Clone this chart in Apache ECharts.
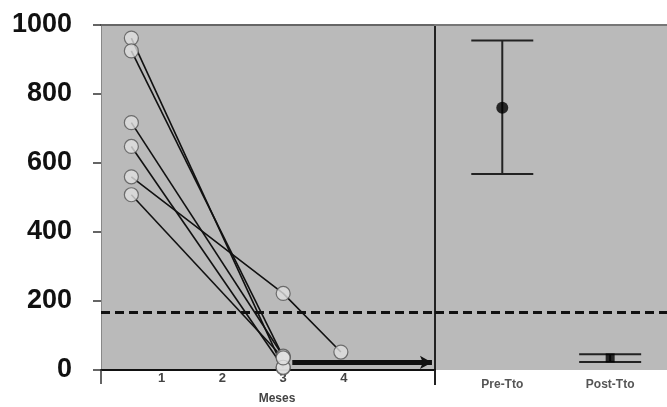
<!DOCTYPE html>
<html>
<head>
<meta charset="utf-8">
<script src="https://cdn.jsdelivr.net/npm/echarts@6/dist/echarts.min.js"></script>
<style>html,body{margin:0;padding:0;background:#fff;}#c{width:667px;height:407px;}</style>
</head>
<body>
<div id="c"></div>
<script>
// ---- data ----
const yTicks = [0, 200, 400, 600, 800, 1000];
const monthTicks = [1, 2, 3, 4];
const patientA = [[0.5, 962], [3, 6]];
const patientB = [[0.5, 925], [3, 38]];
const patientC = [[0.5, 717], [3, 40]];
const patientD = [[0.5, 648], [3, 8]];
const patientE = [[0.5, 560], [3, 222], [3.95, 52]];
const patientF = [[0.5, 508], [3, 35]];
const thresholdValue = 168;
const arrowStart = [3.15, 22];
const arrowEnd = [5.45, 22];
const groupLabels = ['Pre-Tto', 'Post-Tto'];
const groupPos = [0.29, 0.755];
const groupMean = [760, 35];
const groupLow = [568, 23];
const groupHigh = [955, 46];

const patients = [patientA, patientB, patientC, patientD, patientE, patientF];
const chart = echarts.init(document.getElementById('c'), null, {renderer: 'canvas'});
const FONT = 'Liberation Sans, Arial, sans-serif';
const BG = '#bababa';

const lineSeries = patients.map(p => ({
  type: 'line', xAxisIndex: 0, yAxisIndex: 0, data: p,
  showSymbol: false, symbol: 'none', silent: true, z: 3,
  lineStyle: {color: '#111', width: 1.6}
}));
const allPoints = [];
patients.forEach(p => p.forEach(pt => allPoints.push(pt)));

const option = {
  animation: false,
  backgroundColor: '#fff',
  grid: [
    {left: 101, top: 25, width: 334, bottom: 37, show: true, backgroundColor: BG, borderWidth: 0, containLabel: false, outerBoundsMode: 'none'},
    {left: 435, top: 25, right: 0, bottom: 37, show: true, backgroundColor: BG, borderWidth: 0, containLabel: false, outerBoundsMode: 'none'}
  ],
  xAxis: [
    {gridIndex: 0, type: 'value', min: 0, max: 5.5,
     axisLine: {show: true, lineStyle: {color: '#111', width: 2}},
     axisTick: {show: true, customValues: [0, 5.5], length: 14, lineStyle: {color: '#333', width: 1.5}},
     axisLabel: {customValues: monthTicks, margin: 2, fontFamily: FONT, fontSize: 13, fontWeight: 'bold', color: '#444'},
     splitLine: {show: false},
     name: 'Meses', nameLocation: 'middle', nameGap: 23,
     nameTextStyle: {fontFamily: FONT, fontSize: 12, fontWeight: 'bold', color: '#444', padding: [0, 0, 0, 18]}},
    {gridIndex: 1, type: 'value', min: 0, max: 1,
     axisLine: {show: false},
     axisTick: {show: true, customValues: [0], length: 15, lineStyle: {color: '#222', width: 2}},
     axisLabel: {customValues: groupPos, margin: 9, fontFamily: FONT, fontSize: 12, fontWeight: 'bold', color: '#555',
       formatter: v => {let b = 0; groupPos.forEach((g, i) => {if (Math.abs(g - v) < Math.abs(groupPos[b] - v)) b = i;}); return groupLabels[b];}},
     splitLine: {show: false}},
    {gridIndex: 0, type: 'value', min: 0, max: 5.5, position: 'top',
     axisLine: {show: true, lineStyle: {color: '#666', width: 2}}, axisTick: {show: false}, axisLabel: {show: false}, splitLine: {show: false}},
    {gridIndex: 1, type: 'value', min: 0, max: 1, position: 'top',
     axisLine: {show: true, lineStyle: {color: '#777', width: 2}}, axisTick: {show: false}, axisLabel: {show: false}, splitLine: {show: false}}
  ],
  yAxis: [
    {gridIndex: 0, type: 'value', min: 0, max: 1000, interval: 200,
     axisLine: {show: true, lineStyle: {color: '#888', width: 1}},
     axisTick: {show: true, length: 8, lineStyle: {color: '#333', width: 1.5}},
     axisLabel: {margin: 29, fontFamily: FONT, fontSize: 27, fontWeight: 'bold', color: '#111', formatter: v => String(v)},
     splitLine: {show: false}},
    {gridIndex: 1, type: 'value', min: 0, max: 1000, interval: 200,
     axisLine: {show: true, lineStyle: {color: '#222', width: 2}},
     axisTick: {show: false}, axisLabel: {show: false}, splitLine: {show: false}}
  ],
  series: [
    ...lineSeries,
    {type: 'scatter', xAxisIndex: 0, yAxisIndex: 0, data: allPoints, symbol: 'circle', symbolSize: 14, z: 5, silent: true,
     itemStyle: {color: '#e0e0e0', borderColor: '#555', borderWidth: 1.2},
     markLine: {silent: true, symbol: ['none', 'arrow'], symbolSize: [10, 12], label: {show: false},
       lineStyle: {color: '#111', width: 5, type: 'solid'},
       data: [[{coord: arrowStart}, {coord: arrowEnd}]]}},
    {type: 'line', xAxisIndex: 0, yAxisIndex: 0, data: [], z: 4,
     markLine: {silent: true, symbol: 'none', label: {show: false},
       lineStyle: {color: '#111', width: 3, type: [9, 5]}, data: [{yAxis: thresholdValue}]}},
    {type: 'custom', xAxisIndex: 1, yAxisIndex: 1, silent: true, z: 4,
     data: groupPos.map((x, i) => [x, groupLow[i], groupMean[i], groupHigh[i]]),
     renderItem: (params, api) => {
       const lo = api.coord([api.value(0), api.value(1)]);
       const hi = api.coord([api.value(0), api.value(3)]);
       const hw = 31;
       const st = {stroke: '#222', lineWidth: 2};
       return {type: 'group', children: [
         {type: 'line', shape: {x1: lo[0], y1: lo[1], x2: hi[0], y2: hi[1]}, style: st},
         {type: 'line', shape: {x1: lo[0] - hw, y1: lo[1], x2: lo[0] + hw, y2: lo[1]}, style: st},
         {type: 'line', shape: {x1: hi[0] - hw, y1: hi[1], x2: hi[0] + hw, y2: hi[1]}, style: st}
       ]};
     }},
    {type: 'scatter', xAxisIndex: 1, yAxisIndex: 1, z: 6, silent: true,
     data: [{value: [groupPos[0], groupMean[0]], symbol: 'circle', symbolSize: 12},
            {value: [groupPos[1], groupMean[1]], symbol: 'rect', symbolSize: [9, 9]}],
     itemStyle: {color: '#000'}},
    {type: 'line', xAxisIndex: 1, yAxisIndex: 1, data: [], z: 4,
     markLine: {silent: true, symbol: 'none', label: {show: false},
       lineStyle: {color: '#111', width: 3, type: [9, 5]}, data: [{yAxis: thresholdValue}]}}
  ]
};
chart.setOption(option);
</script>
</body>
</html>
